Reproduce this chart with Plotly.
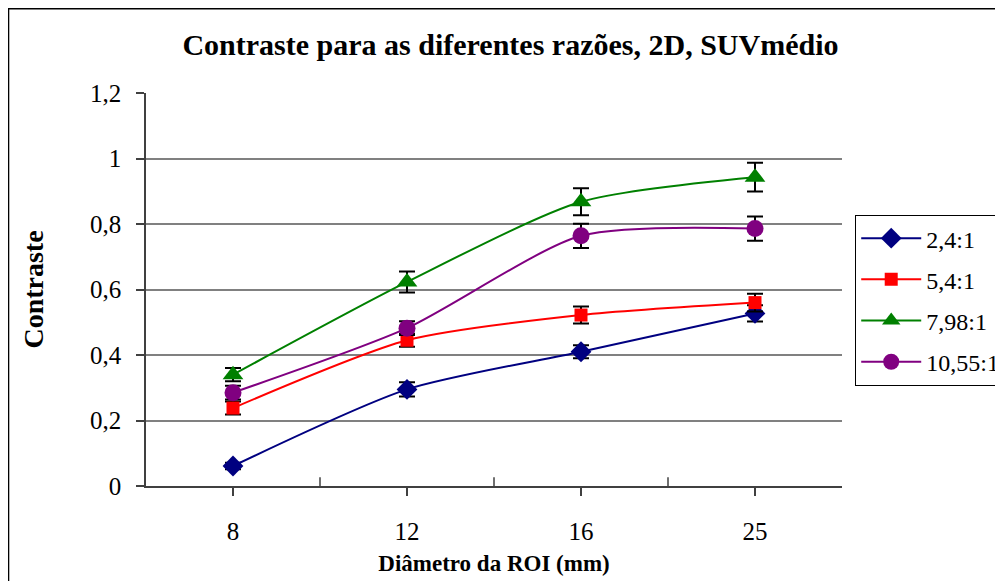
import plotly.graph_objects as go

# ------- data
diameters = ["8", "12", "16", "25"]
series_names = ["2,4:1", "5,4:1", "7,98:1", "10,55:1"]

c_24 = [0.061, 0.295, 0.410, 0.527]
c_54 = [0.238, 0.445, 0.522, 0.560]
c_798 = [0.340, 0.623, 0.868, 0.943]
c_1055 = [0.285, 0.482, 0.764, 0.786]

e_24 = [0.010, 0.022, 0.020, 0.025]
e_54 = [0.020, 0.020, 0.026, 0.027]
e_798 = [0.020, 0.032, 0.041, 0.044]
e_1055 = [0.021, 0.021, 0.037, 0.037]

y_ticks = [0, 0.2, 0.4, 0.6, 0.8, 1.0, 1.2]

values = [c_24, c_54, c_798, c_1055]
errors = [e_24, e_54, e_798, e_1055]
colors = ["#000080", "#FF0000", "#008000", "#800080"]
symbols = ["diamond", "square", "triangle-up", "circle"]
sizes = [16, 13, 18, 17]

FONT = "Liberation Serif"

fig = go.Figure()
for name, v, e, col, sym, sz in zip(series_names, values, errors, colors, symbols, sizes):
    fig.add_trace(go.Scatter(
        x=diameters, y=v,
        mode="lines+markers",
        name=name,
        legendgroup=name,
        line=dict(color=col, width=2, shape="spline", smoothing=0.7),
        marker=dict(symbol=sym, size=sz, color=col),
        error_y=dict(type="data", array=e, visible=True,
                     color="black", thickness=2, width=8),
    ))

# boundary ticks between categories (pointing inside)
for i in range(len(diameters) - 1):
    fig.add_shape(type="line", xref="x", yref="y domain",
                  x0=i + 0.5, x1=i + 0.5, y0=0, y1=0.022,
                  line=dict(color="#404040", width=1.5))

# outer chart border
fig.add_shape(type="rect", xref="paper", yref="paper",
              x0=-0.1975, x1=1.3, y0=-0.3, y1=1.2145,
              line=dict(color="black", width=1.5), layer="below")

fig.update_layout(
    width=995, height=573,
    margin=dict(l=138, r=161, t=85, b=95, autoexpand=False),
    paper_bgcolor="white",
    plot_bgcolor="white",
    separators=",.",
    showlegend=True,
    font=dict(family=FONT, color="black", size=22),
    title=dict(
        text="<b>Contraste para as diferentes razões, 2D, SUVmédio</b>",
        x=0.505, xanchor="center", y=0.937, yanchor="middle",
        font=dict(family=FONT, size=30, color="black"),
    ),
    legend=dict(
        x=1.0187, xanchor="left", y=0.69, yanchor="top",
        bordercolor="black", borderwidth=1.2,
        font=dict(family=FONT, size=24, color="black"),
        tracegroupgap=7,
        itemwidth=60,
    ),
)

fig.update_xaxes(
    type="category",
    range=[-0.5, 3.5],
    automargin=False,
    showline=True, linecolor="#404040", linewidth=1.5,
    ticks="outside", ticklen=8, tickwidth=1.5, tickcolor="#404040",
    ticklabelstandoff=14,
    tickfont=dict(family=FONT, size=25),
    showgrid=False,
    title=dict(text="<b>Diâmetro da ROI (mm)</b>", standoff=11,
               font=dict(family=FONT, size=23)),
)

fig.update_yaxes(
    range=[0, 1.2],
    tickvals=y_ticks,
    automargin=False,
    showline=True, linecolor="#404040", linewidth=1.5,
    ticks="outside", ticklen=8, tickwidth=1.5, tickcolor="#404040",
    ticklabelstandoff=10,
    tickfont=dict(family=FONT, size=25),
    showgrid=True, gridcolor="#808080", gridwidth=1.5,
    zeroline=False,
    title=dict(text="<b>Contraste</b>", standoff=38,
               font=dict(family=FONT, size=28)),
)

fig.write_html("out.html")
